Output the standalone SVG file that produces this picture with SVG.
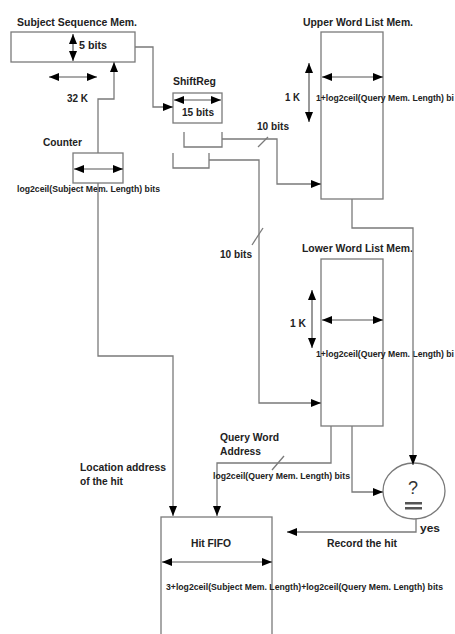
<svg xmlns="http://www.w3.org/2000/svg" width="455" height="634" viewBox="0 0 455 634">
<style>
.box{fill:#fff;stroke:#7a7a7a;stroke-width:1.3}
.ln{fill:none;stroke:#7a7a7a;stroke-width:1.3}
.arr{fill:none;stroke:#7a7a7a;stroke-width:1.3;marker-end:url(#ah)}
.dbl{fill:none;stroke:#555;stroke-width:1.2;marker-end:url(#ah);marker-start:url(#ahs)}
.t{font-family:"Liberation Sans",Arial,sans-serif;font-weight:bold;font-size:11.5px;fill:#222}
.s{font-family:"Liberation Sans",Arial,sans-serif;font-weight:bold;font-size:8.5px;fill:#222}
</style>
<defs>
<marker id="ah" markerUnits="userSpaceOnUse" markerWidth="11" markerHeight="9" refX="10" refY="4" orient="auto"><path d="M0,0 L10,4 L0,8 z" fill="#000"/></marker>
<marker id="ahs" markerUnits="userSpaceOnUse" markerWidth="11" markerHeight="9" refX="10" refY="4" orient="auto-start-reverse"><path d="M0,0 L10,4 L0,8 z" fill="#000"/></marker>
</defs>

<g id="subject">
<text class="t" x="17" y="26" textLength="120" lengthAdjust="spacingAndGlyphs">Subject Sequence Mem.</text>
<rect class="box" x="11" y="32" width="124" height="30"/>
<path class="dbl" d="M73,34 V61"/>
<text class="t" x="79" y="49" textLength="28" lengthAdjust="spacingAndGlyphs">5 bits</text>
<path class="dbl" d="M49,77 H97"/>
<text class="t" x="67" y="102" textLength="21" lengthAdjust="spacingAndGlyphs">32 K</text>
</g>

<g id="shiftreg">
<text class="t" x="173" y="85" textLength="43" lengthAdjust="spacingAndGlyphs">ShiftReg</text>
<rect class="box" x="173" y="93" width="49" height="30"/>
<path class="dbl" d="M174,100 H221"/>
<text class="t" x="182" y="116" textLength="32" lengthAdjust="spacingAndGlyphs">15 bits</text>
</g>

<g id="bracket1">
<path class="ln" d="M184,132 V147 H222 V132"/>
</g>
<g id="bracket2">
<path class="ln" d="M173,153 V168 H209 V153"/>
</g>

<g id="counter">
<text class="t" x="43" y="146" textLength="39" lengthAdjust="spacingAndGlyphs">Counter</text>
<rect class="box" x="73" y="153" width="50" height="30"/>
<path class="dbl" d="M74,169 H123"/>
<text class="s" x="17" y="192" textLength="143" lengthAdjust="spacingAndGlyphs">log2ceil(Subject Mem. Length) bits</text>
</g>

<g id="upper">
<text class="t" x="303" y="26" textLength="110" lengthAdjust="spacingAndGlyphs">Upper Word List Mem.</text>
<rect class="box" x="321" y="32" width="62" height="167"/>
<path class="dbl" d="M322,77 H383"/>
<path class="dbl" d="M309,63 V122"/>
<text class="t" x="285" y="101" textLength="15" lengthAdjust="spacingAndGlyphs">1 K</text>
<text class="s" x="316" y="101" textLength="138" lengthAdjust="spacingAndGlyphs">1+log2ceil(Query Mem. Length) bi</text>
</g>

<g id="lower">
<text class="t" x="302" y="252" textLength="111" lengthAdjust="spacingAndGlyphs">Lower Word List Mem.</text>
<rect class="box" x="321" y="259" width="62" height="167"/>
<path class="dbl" d="M322,320 H383"/>
<path class="dbl" d="M312,290 V348"/>
<text class="t" x="290" y="327" textLength="16" lengthAdjust="spacingAndGlyphs">1 K</text>
<text class="s" x="316" y="357" textLength="138" lengthAdjust="spacingAndGlyphs">1+log2ceil(Query Mem. Length) bi</text>
</g>

<g id="comparator">
<ellipse class="box" cx="414" cy="491" rx="31" ry="28"/>
<text x="413" y="494" text-anchor="middle" style="font-family:'Liberation Sans',Arial,sans-serif;font-size:18px;fill:#333">?</text>
<rect x="405" y="502" width="17" height="2.5" fill="#555"/>
<rect x="405" y="507" width="17" height="2.5" fill="#555"/>
</g>

<g id="hitfifo">
<rect class="box" x="161" y="517" width="111" height="130"/>
<text class="t" x="191" y="547" textLength="40" lengthAdjust="spacingAndGlyphs">Hit FIFO</text>
<path class="dbl" d="M162,562 H272"/>
<text class="s" x="166" y="590" textLength="277" lengthAdjust="spacingAndGlyphs">3+log2ceil(Subject Mem. Length)+log2ceil(Query Mem. Length) bits</text>
</g>

<g id="connectors">
<path class="arr" d="M135,47 H153 V107 H173"/>
<path class="arr" d="M98,153 V99 H114 V62"/>
<path class="arr" d="M98,183 V356 H173 V516"/>
<path class="arr" d="M222,139 H277 V184 H321"/>
<path class="ln" d="M258,147 L268,137"/>
<path class="arr" d="M209,160 H259 V403 H321"/>
<path class="ln" d="M252,245 L263,228"/>
<path class="arr" d="M352,199 V228 H413 V465"/>
<path class="arr" d="M331,426 V463 H217 V516"/>
<path class="ln" d="M272,470 L284,456"/>
<path class="arr" d="M352,426 V492 H383"/>
<path class="arr" d="M416,519 V532 H287"/>
</g>

<g id="labels">
<text class="t" x="257" y="130" textLength="32" lengthAdjust="spacingAndGlyphs">10 bits</text>
<text class="t" x="220" y="258" textLength="32" lengthAdjust="spacingAndGlyphs">10 bits</text>
<text class="t" x="220" y="441" textLength="59" lengthAdjust="spacingAndGlyphs">Query Word</text>
<text class="t" x="220" y="455" textLength="41" lengthAdjust="spacingAndGlyphs">Address</text>
<text class="s" x="213" y="479" textLength="137" lengthAdjust="spacingAndGlyphs">log2ceil(Query Mem. Length) bits</text>
<text class="t" x="80" y="471" textLength="86" lengthAdjust="spacingAndGlyphs">Location address</text>
<text class="t" x="80" y="485" textLength="43" lengthAdjust="spacingAndGlyphs">of the hit</text>
<text class="t" x="420" y="532" textLength="20" lengthAdjust="spacingAndGlyphs">yes</text>
<text class="t" x="327" y="547" textLength="70" lengthAdjust="spacingAndGlyphs">Record the hit</text>
</g>
</svg>
